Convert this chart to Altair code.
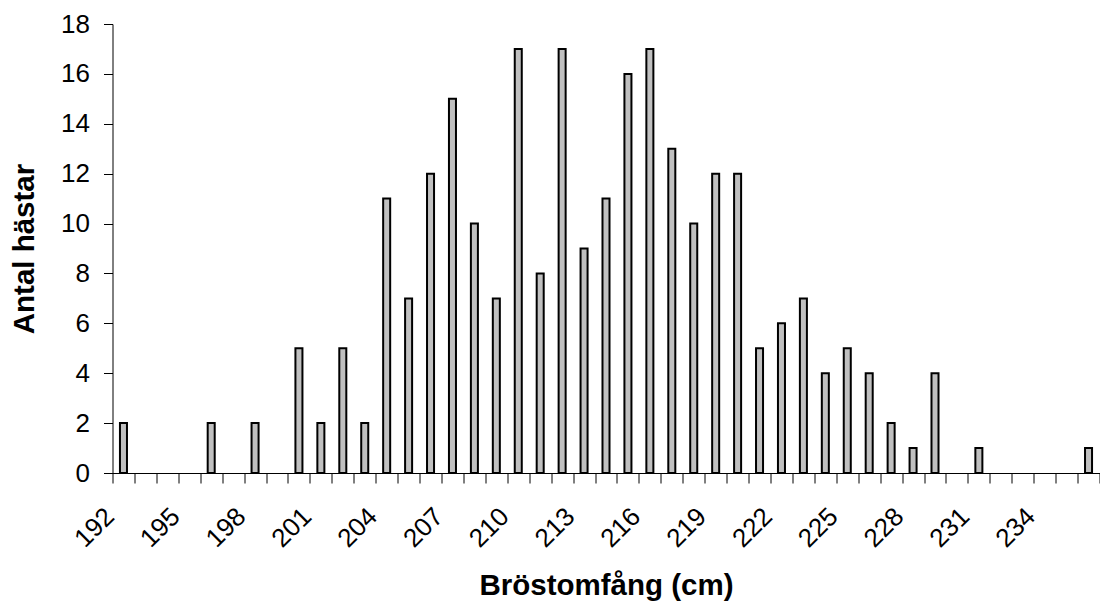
import altair as alt
import pandas as pd

# Data
brostomfang = list(range(192, 237))
antal = [2, 0, 0, 0, 2, 0, 2, 0, 5, 2,
         5, 2, 11, 7, 12, 15, 10, 7, 17, 8,
         17, 9, 11, 16, 17, 13, 10, 12, 12, 5,
         6, 7, 4, 5, 4, 2, 1, 4, 0, 1,
         0, 0, 0, 0, 1]
y_ticks = list(range(0, 19, 2))

df = pd.DataFrame({"cm": brostomfang, "antal": antal})

FONT = "Liberation Sans"

chart = alt.Chart(df).transform_filter(
    "datum.antal > 0"
).mark_bar(
    width={"band": 0.32}, fill="#C0C0C0", stroke="black", strokeWidth=2
).encode(
    x=alt.X(
        "cm:O",
        scale=alt.Scale(domain=brostomfang, paddingInner=0, paddingOuter=0),
        axis=alt.Axis(
            title="Bröstomfång (cm)",
            titleFont=FONT, titleFontSize=29.5, titleFontWeight="bold", titleColor="black",
            titleBaseline="alphabetic", titleY=121,
            labelFont=FONT, labelFontSize=26, labelColor="black",
            labelAngle=-45, labelAlign="right", labelBaseline="middle",
            labelOffset=-14, labelPadding=29, labelOverlap=False,
            labelExpr="(datum.value - 192) % 3 === 0 ? datum.label : ''",
            tickBand="extent", tickSize=10, tickColor="black", tickWidth=1,
            domainColor="black", domainWidth=1, grid=False,
        ),
    ),
    y=alt.Y(
        "antal:Q",
        scale=alt.Scale(domain=[0, 18], nice=False),
        axis=alt.Axis(
            title="Antal hästar", values=y_ticks,
            titleFont=FONT, titleFontSize=29.5, titleFontWeight="bold", titleColor="black",
            titleBaseline="alphabetic", titleX=-79,
            labelFont=FONT, labelFontSize=26, labelColor="black", labelPadding=14,
            tickSize=9, tickColor="black", tickWidth=1,
            domainColor="black", domainWidth=1, grid=False,
        ),
    ),
).properties(
    width=987, height=449,
    autosize=alt.AutoSizeParams(type="none"),
    padding={"left": 104.5, "top": 16, "right": 0, "bottom": 128},
).configure_view(stroke=None)

chart.save("out.html", embed_options={"renderer": "svg", "actions": False})
